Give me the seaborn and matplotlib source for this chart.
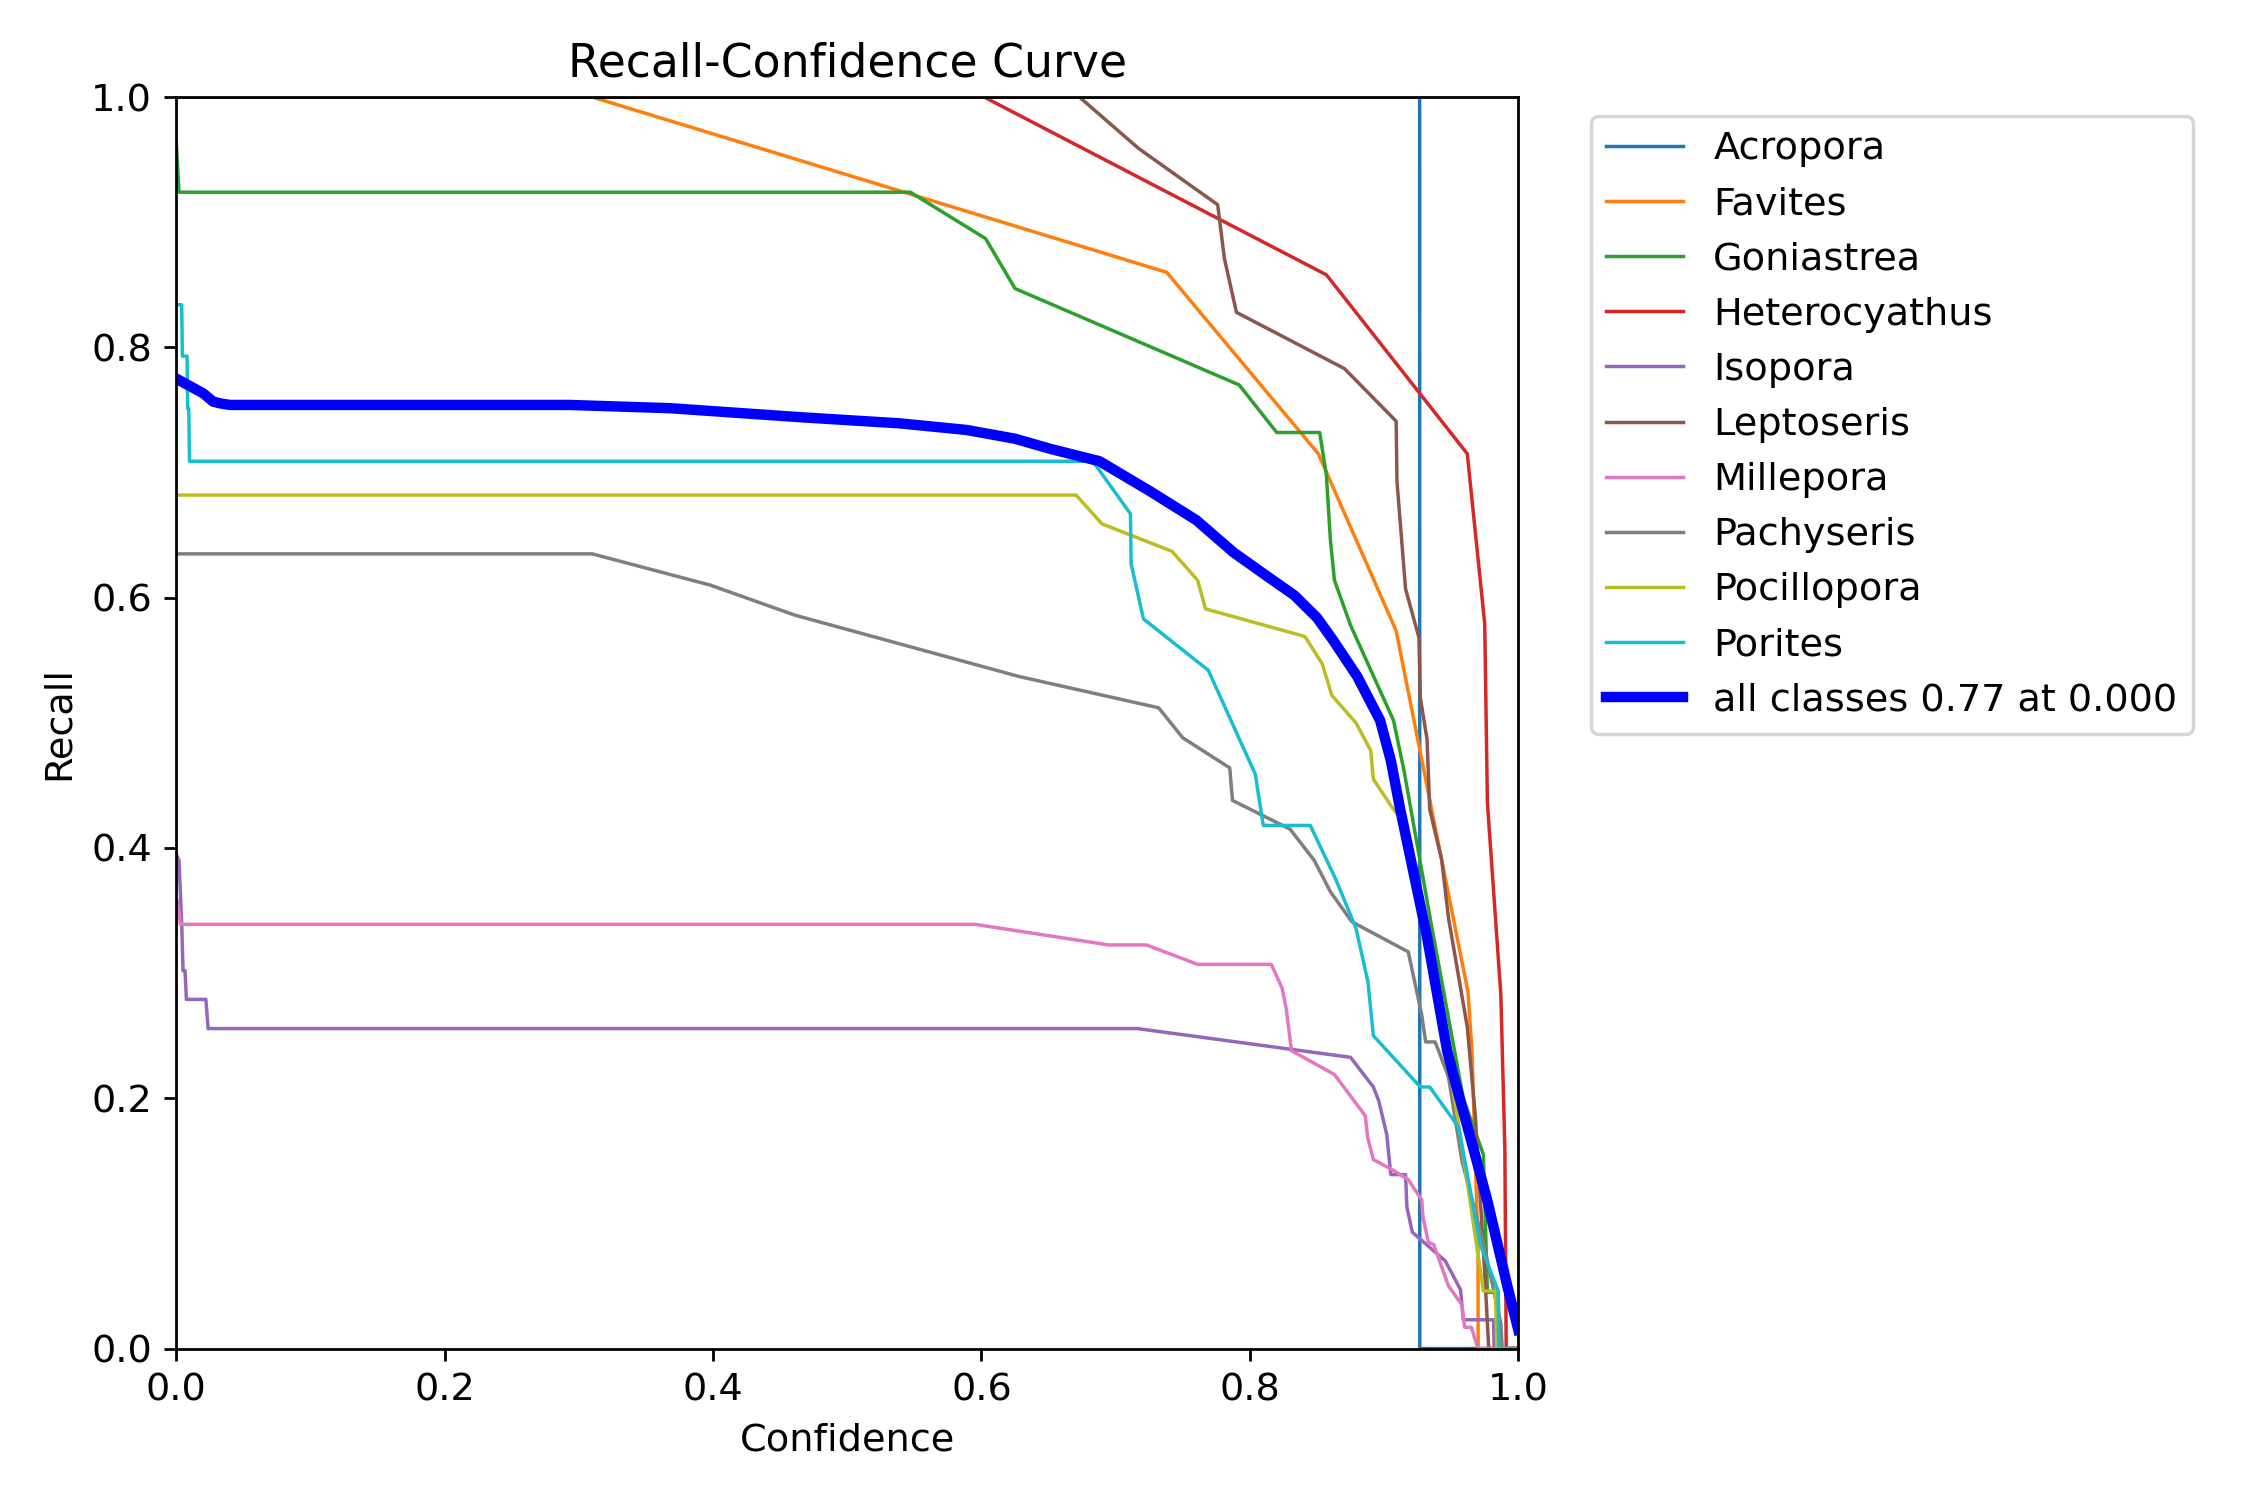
import matplotlib
matplotlib.use("Agg")
import matplotlib.pyplot as plt
import seaborn as sns

# recall vs confidence
acropora_x = [0, 0.9265, 0.9266, 1.0]
acropora_y = [1.0, 1.0, 0.0, 0.0]

favites_x = [0, 0.31, 0.738, 0.851, 0.909, 0.9625, 0.9655, 0.970, 0.9701, 1.0]
favites_y = [1.0, 1.0, 0.86, 0.715, 0.5735, 0.285, 0.238, 0.08, 0.0, 0.0]

goniastrea_x = [0, 0.002, 0.547, 0.603, 0.625, 0.792, 0.820, 0.852, 0.857, 0.860, 0.863,
                0.875, 0.907, 0.915, 0.935, 0.959, 0.974, 0.977, 0.985, 0.986, 1.0]
goniastrea_y = [0.963, 0.924, 0.924, 0.887, 0.847, 0.770, 0.732, 0.732, 0.698, 0.646, 0.614,
                0.578, 0.502, 0.461, 0.34, 0.20, 0.155, 0.045, 0.045, 0.0, 0.0]

heterocyathus_x = [0, 0.602, 0.857, 0.962, 0.975, 0.977, 0.987, 0.990, 0.991, 1.0]
heterocyathus_y = [1.0, 1.0, 0.858, 0.715, 0.579, 0.436, 0.283, 0.160, 0.0, 0.0]

isopora_x = [0, 0.002, 0.004, 0.005, 0.0065, 0.0075, 0.022, 0.0237, 0.716, 0.875, 0.892,
             0.896, 0.902, 0.905, 0.916, 0.917, 0.921, 0.9456, 0.957, 0.959, 0.9816, 0.982, 1.0]
isopora_y = [0.395, 0.39, 0.34, 0.302, 0.302, 0.279, 0.279, 0.2557, 0.2557, 0.2327, 0.209,
             0.198, 0.171, 0.139, 0.139, 0.113, 0.093, 0.070, 0.047, 0.023, 0.023, 0.0, 0.0]

leptoseris_x = [0, 0.673, 0.717, 0.776, 0.781, 0.790, 0.8705, 0.909, 0.9096, 0.916, 0.926,
                0.927, 0.932, 0.934, 0.943, 0.948, 0.962, 0.968, 0.975, 0.978, 1.0]
leptoseris_y = [1.0, 1.0, 0.959, 0.914, 0.871, 0.828, 0.783, 0.741, 0.693, 0.607, 0.568,
                0.520, 0.487, 0.431, 0.390, 0.344, 0.257, 0.186, 0.06, 0.0, 0.0]

millepora_x = [0, 0.0013, 0.003, 0.595, 0.695, 0.723, 0.761, 0.816, 0.824, 0.827, 0.831,
               0.863, 0.886, 0.8877, 0.892, 0.906, 0.918, 0.928, 0.929, 0.933, 0.937, 0.948,
               0.958, 0.960, 0.965, 0.970, 1.0]
millepora_y = [0.36, 0.355, 0.339, 0.339, 0.3225, 0.3225, 0.307, 0.307, 0.288, 0.272, 0.238,
               0.219, 0.186, 0.169, 0.151, 0.143, 0.135, 0.119, 0.105, 0.085, 0.083, 0.050,
               0.035, 0.017, 0.017, 0.0, 0.0]

pachyseris_x = [0, 0.31, 0.398, 0.461, 0.628, 0.732, 0.750, 0.785, 0.787, 0.830, 0.848,
                0.860, 0.876, 0.918, 0.928, 0.931, 0.938, 0.9406, 0.948, 0.958, 0.975, 0.987,
                0.988, 1.0]
pachyseris_y = [0.635, 0.635, 0.610, 0.586, 0.537, 0.512, 0.488, 0.464, 0.438, 0.415, 0.390,
                0.365, 0.341, 0.317, 0.267, 0.245, 0.245, 0.238, 0.217, 0.150, 0.08, 0.02,
                0.0, 0.0]

pocillopora_x = [0, 0.6705, 0.6897, 0.742, 0.761, 0.767, 0.841, 0.854, 0.861, 0.879, 0.890,
                 0.892, 0.905, 0.912, 0.93, 0.952, 0.957, 0.974, 0.983, 0.984, 1.0]
pocillopora_y = [0.682, 0.682, 0.659, 0.637, 0.614, 0.591, 0.569, 0.547, 0.522, 0.500, 0.478,
                 0.455, 0.434, 0.424, 0.335, 0.203, 0.169, 0.046, 0.046, 0.0, 0.0]

porites_x = [0, 0.004, 0.0045, 0.008, 0.0085, 0.0093, 0.0098, 0.683, 0.711, 0.7115, 0.7207,
             0.769, 0.804, 0.810, 0.845, 0.864, 0.879, 0.888, 0.892, 0.927, 0.934, 0.9555,
             0.9717, 0.985, 0.9855, 1.0]
porites_y = [0.834, 0.834, 0.793, 0.793, 0.751, 0.751, 0.709, 0.709, 0.667, 0.627, 0.583,
             0.542, 0.459, 0.418, 0.418, 0.375, 0.336, 0.293, 0.250, 0.209, 0.209, 0.177,
             0.083, 0.046, 0.0, 0.0]

# smoothed mean over classes
all_x = [0, 0.020, 0.0274, 0.0324, 0.040, 0.293, 0.368, 0.465, 0.539, 0.589, 0.625, 0.651,
         0.688, 0.7257, 0.760, 0.788, 0.813, 0.833, 0.850, 0.862, 0.880, 0.897, 0.905, 0.912,
         0.932, 0.947, 0.952, 0.967, 0.977, 0.9916, 1.0]
all_y = [0.775, 0.7633, 0.7567, 0.7553, 0.754, 0.754, 0.7514, 0.7442, 0.7393, 0.734, 0.727,
         0.719, 0.709, 0.685, 0.662, 0.636, 0.617, 0.602, 0.584, 0.566, 0.537, 0.502, 0.470,
         0.431, 0.329, 0.238, 0.217, 0.158, 0.118, 0.051, 0.015]

class_names = ["Acropora", "Favites", "Goniastrea", "Heterocyathus", "Isopora",
               "Leptoseris", "Millepora", "Pachyseris", "Pocillopora", "Porites"]
class_curves = [(acropora_x, acropora_y), (favites_x, favites_y), (goniastrea_x, goniastrea_y),
                (heterocyathus_x, heterocyathus_y), (isopora_x, isopora_y),
                (leptoseris_x, leptoseris_y), (millepora_x, millepora_y),
                (pachyseris_x, pachyseris_y), (pocillopora_x, pocillopora_y),
                (porites_x, porites_y)]

palette = sns.color_palette("tab10", len(class_names))
plt.rc("font", size=11)

fig, ax = plt.subplots(1, 1, figsize=(9, 6), tight_layout=True)

for name, (cx, cy), col in zip(class_names, class_curves, palette):
    sns.lineplot(x=cx, y=cy, estimator=None, sort=False, linewidth=1,
                 color=col, label=name, ax=ax)

sns.lineplot(x=all_x, y=all_y, estimator=None, sort=False, linewidth=3,
             color="blue", label="all classes 0.77 at 0.000", ax=ax)

ax.set_xlabel("Confidence")
ax.set_ylabel("Recall")
ax.set_xlim(0, 1)
ax.set_ylim(0, 1)
ax.legend(bbox_to_anchor=(1.04, 1), loc="upper left")
ax.set_title("Recall-Confidence Curve")

fig.savefig("out.png", dpi=250)
